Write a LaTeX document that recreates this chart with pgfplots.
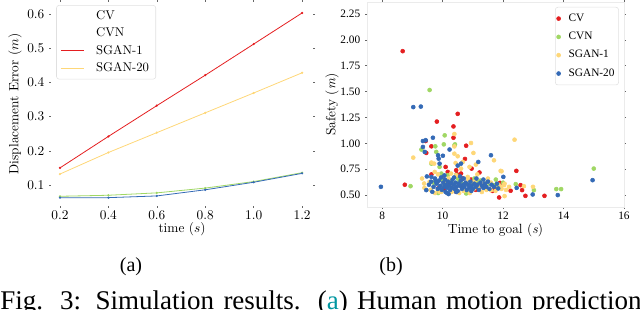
\documentclass[border=0pt]{standalone}
\usepackage{fontspec}
\usepackage{pgfplots}
\usepackage{pgfplotstable}
\pgfplotsset{compat=1.18}
\newfontfamily\timesf{Liberation Serif}
\definecolor{cvred}{RGB}{228,30,32}
\definecolor{cvngreen}{RGB}{160,215,100}
\definecolor{sganyellow}{RGB}{254,215,120}
\definecolor{sganblue}{RGB}{52,106,182}
\definecolor{capteal}{RGB}{0,150,160}

\pgfplotstableread{
x y
8.68 1.89
8.75 0.60
9.81 1.21
10.50 1.285
10.36 1.163
10.36 1.054
9.44 1.022
9.63 0.971
9.46 0.907
10.78 0.977
10.74 0.849
10.96 0.756
10.10 0.772
10.17 0.724
10.45 0.74
10.47 0.702
10.61 0.708
11.22 0.718
10.94 0.65
10.45 0.532
9.85 0.564
11.87 0.477
9.63 0.70
10.01 0.66
10.67 0.66
11.70 0.564
11.21 0.58
12.44 0.734
12.58 0.596
12.63 0.548
12.25 0.542
12.74 0.493
13.37 0.493
11.90 0.618
9.80 0.62
10.25 0.61
10.65 0.57
11.10 0.55
11.40 0.60
11.65 0.54
10.05 0.56
10.90 0.64
}\cvdata

\pgfplotstableread{
x y
9.57 1.515
10.07 1.077
9.76 0.971
10.41 0.99
9.30 0.94
10.04 0.99
10.39 0.98
8.94 0.586
9.90 0.772
9.96 0.708
10.17 0.692
10.45 0.692
10.78 0.612
10.78 0.516
11.05 0.66
11.70 0.596
10.07 0.596
11.49 0.628
9.63 0.804
9.79 0.917
10.56 0.628
12.42 0.606
13.02 0.548
13.76 0.558
13.92 0.558
15.00 0.756
11.76 0.65
9.70 0.62
10.00 0.65
10.30 0.64
10.65 0.61
10.95 0.62
11.25 0.64
11.55 0.61
11.85 0.58
12.00 0.62
10.50 0.66
11.10 0.63
9.85 0.52
10.80 0.52
}\cvndata

\pgfplotstableread{
x y
10.94 1.003
11.02 0.907
9.03 0.862
9.63 0.814
9.72 0.804
10.43 0.81
10.67 0.82
11.10 0.795
10.61 0.756
10.28 0.708
9.32 0.66
9.74 0.724
11.70 0.836
11.92 0.734
10.83 0.676
9.39 0.612
11.38 0.612
11.60 0.548
11.92 0.58
9.90 0.532
10.34 0.58
11.05 0.564
9.57 0.628
10.89 0.772
10.39 0.90
10.39 1.09
12.38 1.035
11.95 0.73
12.20 0.58
12.03 0.596
12.05 0.49
12.99 0.58
12.69 0.586
9.40 0.57
9.60 0.55
9.75 0.52
9.95 0.53
10.10 0.64
10.30 0.53
10.55 0.52
10.70 0.54
10.90 0.52
11.05 0.63
11.20 0.58
11.30 0.53
11.45 0.55
11.60 0.62
11.75 0.54
11.85 0.60
11.95 0.56
12.05 0.61
10.20 0.66
10.85 0.65
11.50 0.66
9.85 0.70
10.45 0.69
11.15 0.70
12.10 0.55
10.50 0.875
10.39 0.97
}\sganonedata

\pgfplotstableread{
x y
7.96 0.58
9.03 1.35
9.28 1.355
9.68 1.054
9.35 1.022
9.44 1.03
9.35 0.965
9.41 0.917
9.85 0.885
9.87 0.852
10.23 0.94
9.90 0.804
11.18 0.82
11.60 0.885
9.63 0.676
9.77 0.634
9.46 0.548
9.66 0.532
10.61 0.804
10.01 0.88
10.50 0.785
12.01 0.676
12.45 0.57
12.98 0.506
13.81 0.50
14.96 0.644
11.84 0.564
9.55 0.60
9.62 0.63
9.70 0.58
9.75 0.66
9.80 0.61
9.84 0.56
9.88 0.64
9.92 0.59
9.95 0.67
9.98 0.55
10.02 0.62
10.05 0.58
10.08 0.65
10.10 0.53
10.12 0.60
10.15 0.57
10.18 0.63
10.20 0.51
10.22 0.59
10.25 0.55
10.28 0.62
10.30 0.57
10.33 0.65
10.36 0.60
10.40 0.56
10.43 0.62
10.46 0.58
10.50 0.54
10.53 0.61
10.57 0.59
10.60 0.64
10.64 0.56
10.68 0.60
10.72 0.58
10.76 0.62
10.80 0.55
10.84 0.60
10.88 0.57
10.92 0.63
10.96 0.59
11.00 0.56
11.05 0.61
11.10 0.58
11.15 0.60
11.20 0.55
11.25 0.62
11.30 0.59
11.35 0.57
11.40 0.61
11.45 0.58
11.50 0.63
11.55 0.56
11.62 0.60
11.70 0.58
11.80 0.61
9.48 0.68
10.06 0.69
10.38 0.67
10.58 0.68
11.12 0.66
10.15 0.52
10.45 0.53
10.95 0.54
9.90 0.57
10.70 0.66
11.35 0.65
}\sgantwentydata

\begin{document}
\begin{tikzpicture}
\useasboundingbox (0pt,0pt) rectangle (480pt,232.5pt);
\clip (0pt,0pt) rectangle (480pt,232.5pt);

% ---------- (a) ----------
\begin{axis}[
  at={(38.25pt,78pt)}, anchor=south west,
  width=196.5pt, height=153pt, scale only axis,
  xmin=0.163, xmax=1.245, ymin=0.0386, ymax=0.635,
  axis line style={draw=none},
  xtick={0.2,0.4,0.6,0.8,1.0,1.2},
  ytick={0.1,0.2,0.3,0.4,0.5,0.6},
  xticklabel style={/pgf/number format/fixed, /pgf/number format/fixed zerofill, /pgf/number format/precision=1, yshift=1.5pt},
  yticklabel style={/pgf/number format/fixed, /pgf/number format/fixed zerofill, /pgf/number format/precision=1},
  tick align=outside, major tick length=1.5pt,
  tick style={black!60, line width=0.4pt},
  tick label style={font=\fontsize{10}{12}\selectfont},
  label style={font=\fontsize{10.5}{12}\selectfont},
  xlabel={time ($s$)},
  ylabel={Displacement Error ($m$)},
  every axis x label/.style={at={(axis description cs:0.5,-0.113)}, anchor=center},
  every axis y label/.style={at={(axis description cs:-0.137,0.5)}, anchor=center, rotate=90},
  legend style={at={(0.02,0.985)}, anchor=north west,
    draw=black!12, rounded corners=2pt, fill=white,
    font=\fontsize{9.5}{11}\selectfont, row sep=0.8pt, column sep=7pt,
    inner xsep=3pt, inner ysep=2pt},
  legend cell align=left,
  every axis plot/.append style={line width=0.6pt},
]
\addlegendimage{white, line width=0.7pt}
\addlegendentry{CV}
\addlegendimage{white, line width=0.7pt}
\addlegendentry{CVN}
\addlegendimage{cvred, line width=0.7pt}
\addlegendentry{SGAN-1}
\addlegendimage{sganyellow, line width=0.7pt}
\addlegendentry{SGAN-20}
\addplot[forget plot, cvngreen, mark=*, mark size=0.5pt] coordinates {(0.2,0.067)(0.4,0.070)(0.6,0.077)(0.8,0.091)(1.0,0.110)(1.2,0.136)};
\addplot[forget plot, sganblue, mark=*, mark size=0.5pt] coordinates {(0.2,0.063)(0.4,0.063)(0.6,0.068)(0.8,0.086)(1.0,0.108)(1.2,0.134)};
\addplot[forget plot, sganyellow, mark=*, mark size=0.5pt] coordinates {(0.2,0.132)(0.4,0.195)(0.6,0.253)(0.8,0.311)(1.0,0.369)(1.2,0.428)};
\addplot[forget plot, cvred, mark=*, mark size=0.5pt] coordinates {(0.2,0.150)(0.4,0.242)(0.6,0.332)(0.8,0.421)(1.0,0.512)(1.2,0.603)};
\end{axis}

% ---------- (b) ----------
\begin{axis}[
  at={(275.25pt,77.25pt)}, anchor=south west,
  width=192.75pt, height=153.75pt, scale only axis,
  xmin=7.5, xmax=16, ymin=0.385, ymax=2.365,
  axis line style={draw=black!8},
  xtick={8,10,12,14,16},
  ytick={0.5,0.75,1.0,1.25,1.5,1.75,2.0,2.25},
  yticklabels={0.50,0.75,1.00,1.25,1.50,1.75,2.00,2.25},
  xticklabel style={yshift=1pt},
  /pgf/number format/assume math mode=true,
  tick align=outside, major tick length=1.5pt,
  tick style={black!60, line width=0.4pt},
  tick label style={font=\timesf\fontsize{8.5}{10}\selectfont},
  label style={font=\timesf\fontsize{9}{11}\selectfont},
  xlabel={Time to goal (\textit{s})},
  ylabel={Safety (\textit{m})},
  every axis x label/.style={at={(axis description cs:0.5,-0.112)}, anchor=center},
  every axis y label/.style={at={(axis description cs:-0.136,0.5)}, anchor=center, rotate=90},
  legend style={at={(0.98,0.976)}, anchor=north east,
    draw=black!12, rounded corners=2pt, fill=white,
    font=\timesf\fontsize{8.5}{10}\selectfont, row sep=2.6pt, column sep=4pt,
    inner xsep=1pt, inner ysep=3pt},
  legend cell align=left,
  every axis plot/.append style={only marks, mark=*, mark size=1.5pt},
]
\addplot[cvred, mark options={draw=cvred, fill=cvred}] table {\cvdata};
\addlegendentry{CV}
\addplot[cvngreen, mark options={draw=cvngreen, fill=cvngreen}] table {\cvndata};
\addlegendentry{CVN}
\addplot[sganyellow, mark options={draw=sganyellow, fill=sganyellow}] table {\sganonedata};
\addlegendentry{SGAN-1}
\addplot[sganblue, mark options={draw=sganblue, fill=sganblue}] table {\sgantwentydata};
\addlegendentry{SGAN-20}
\end{axis}

% subfigure labels
\node[font=\timesf\fontsize{15}{17}\selectfont] at (98.25pt,32.25pt) {(a)};
\node[font=\timesf\fontsize{15}{17}\selectfont] at (293.25pt,32.25pt) {(b)};

% caption (cut off at the bottom, as in the reference)
\node[anchor=base west, inner sep=0pt, font=\timesf\fontsize{20.25}{22}\selectfont] at (0pt,0pt)
  {\makebox[481pt][s]{Fig. 3: Simulation results. (\textcolor{capteal}{a}) Human motion prediction}};
\end{tikzpicture}
\end{document}
